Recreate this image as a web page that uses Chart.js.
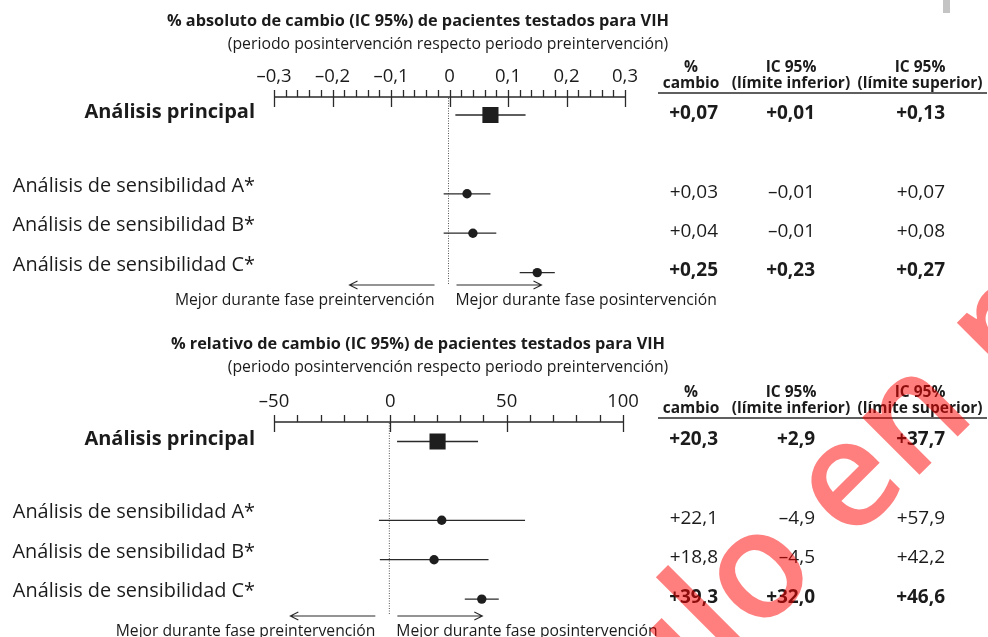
<!DOCTYPE html>
<html lang="es">
<head>
<meta charset="utf-8">
<title>% de cambio de pacientes testados para VIH</title>
<script src="https://cdn.jsdelivr.net/npm/chart.js@4.4.0/dist/chart.umd.min.js"></script>
<style>
  html, body { margin: 0; padding: 0; background: #fff; }
  body { width: 988px; height: 637px; position: relative; overflow: hidden; }
  canvas { position: absolute; left: 0; top: 0; }
  #marca { position: absolute; left: 943px; top: 0; width: 7px; height: 13px; background: #c4c4c4; }
</style>
</head>
<body>
<canvas id="absChart" width="988" height="637"></canvas>
<canvas id="relChart" width="988" height="637"></canvas>
<div id="marca"></div>
<script>
'use strict';

// filas
const rowLabels = ['Análisis principal', 'Análisis de sensibilidad A*', 'Análisis de sensibilidad B*', 'Análisis de sensibilidad C*'];
const rowIndex  = [0, 2, 3, 4];
const boldRows  = [true, false, false, true];
const colHead1  = ['%', 'IC 95%', 'IC 95%'];
const colHead2  = ['cambio', '(límite inferior)', '(límite superior)'];
const arrowLabels = ['Mejor durante fase preintervención', 'Mejor durante fase posintervención'];

// % absoluto
const absTicks      = [-0.3, -0.2, -0.1, 0, 0.1, 0.2, 0.3];
const absTickLabels = ['–0,3', '–0,2', '–0,1', '0', '0,1', '0,2', '0,3'];
const absPoint = [0.07, 0.03, 0.04, 0.15];   // C aparece dibujado en 0,15 en la figura
const absLow   = [0.01, -0.01, -0.01, 0.12];
const absHigh  = [0.13, 0.07, 0.08, 0.18];
const absCambio = ['+0,07', '+0,03', '+0,04', '+0,25'];
const absInf    = ['+0,01', '–0,01', '–0,01', '+0,23'];
const absSup    = ['+0,13', '+0,07', '+0,08', '+0,27'];

// % relativo
const relTicks      = [-50, 0, 50, 100];
const relTickLabels = ['–50', '0', '50', '100'];
const relPoint = [20.3, 22.1, 18.8, 39.3];
const relLow   = [2.9, -4.9, -4.5, 32.0];
const relHigh  = [37.7, 57.9, 42.2, 46.6];
const relCambio = ['+20,3', '+22,1', '+18,8', '+39,3'];
const relInf    = ['+2,9', '–4,9', '–4,5', '+32,0'];
const relSup    = ['+37,7', '+57,9', '+42,2', '+46,6'];

const FONT  = '"Open Sans", "Noto Sans", sans-serif';
const INK   = '#1b1b1b';
const PITCH = 39.4;

function put(c, s, x, cy, size, weight, align) {
  c.font = `${weight} ${size}px ${FONT}`;
  c.textAlign = align;
  c.textBaseline = 'alphabetic';
  c.fillStyle = INK;
  c.fillText(s, x, cy + size * 0.357);
}

function forest(id, o) {
  const bottom = o.rowTop + 4.5 * PITCH;
  return new Chart(document.getElementById(id).getContext('2d'), {
    type: 'scatter',
    data: {
      datasets: [{
        data: o.point.map((v, i) => ({ x: v, y: rowIndex[i] })),
        pointStyle: rowIndex.map(r => r === 0 ? 'rect' : 'circle'),
        pointRadius: rowIndex.map(r => r === 0 ? 11.4 : 4.7),
        backgroundColor: '#1e1e1e',
        borderWidth: 0
      }]
    },
    options: {
      responsive: false,
      animation: false,
      devicePixelRatio: 1,
      events: [],
      layout: { padding: { left: o.left, right: 988 - o.right, top: o.rowTop - PITCH, bottom: 637 - bottom } },
      scales: {
        x: { type: 'linear', min: o.min, max: o.max, display: false },
        y: { type: 'linear', min: -1, max: 4.5, reverse: true, display: false }
      },
      plugins: { legend: { display: false }, tooltip: { enabled: false } }
    },
    plugins: [{
      id: 'forest',
      beforeDatasetsDraw(chart) {
        const c = chart.ctx, x = chart.scales.x, y = chart.scales.y;
        const z = x.getPixelForValue(0);
        c.save();
        c.strokeStyle = '#2a2a2a';
        c.lineWidth = 1.3;
        // eje
        c.beginPath();
        c.moveTo(x.left, o.axisY); c.lineTo(x.right, o.axisY);
        for (let v = o.min; v <= o.max + 1e-9; v += o.minor) {
          const px = Math.round(x.getPixelForValue(v)) + 0.5;
          c.moveTo(px, o.axisY - 7); c.lineTo(px, o.axisY);
        }
        o.ticks.forEach(v => {
          const px = Math.round(x.getPixelForValue(v)) + 0.5;
          c.moveTo(px, o.axisY - 7); c.lineTo(px, o.axisY + 10);
        });
        c.stroke();
        // línea de no efecto
        c.lineWidth = 1;
        c.strokeStyle = '#555';
        c.setLineDash([1, 1.5]);
        c.beginPath();
        c.moveTo(z - 1, o.axisY + 1); c.lineTo(z - 1, o.arrowY - 1);
        c.stroke();
        c.setLineDash([]);
        // IC
        c.strokeStyle = '#2a2a2a';
        c.lineWidth = 1.3;
        c.beginPath();
        o.low.forEach((lo, i) => {
          const py = y.getPixelForValue(rowIndex[i]);
          c.moveTo(x.getPixelForValue(lo), py); c.lineTo(x.getPixelForValue(o.high[i]), py);
        });
        c.stroke();
        // flechas
        c.lineWidth = 1.1;
        c.beginPath();
        c.moveTo(z - 15, o.arrowY); c.lineTo(z - 100, o.arrowY);
        c.moveTo(z - 92, o.arrowY - 4); c.lineTo(z - 100, o.arrowY); c.lineTo(z - 92, o.arrowY + 4);
        c.moveTo(z + 7, o.arrowY); c.lineTo(z + 92, o.arrowY);
        c.moveTo(z + 84, o.arrowY - 4); c.lineTo(z + 92, o.arrowY); c.lineTo(z + 84, o.arrowY + 4);
        c.stroke();
        c.restore();
      },
      afterDraw(chart) {
        const c = chart.ctx, x = chart.scales.x, y = chart.scales.y;
        const z = x.getPixelForValue(0);
        c.save();
        put(c, o.title, 418, o.titleY, 16.3, 700, 'center');
        put(c, o.subtitle, 448, o.titleY + 23, 15.8, 400, 'center');
        o.ticks.forEach((v, i) => put(c, o.tickLabels[i], x.getPixelForValue(v), o.axisY - 22, 18.5, 400, 'center'));
        put(c, arrowLabels[0], z - 15, o.arrowY + 14, 15.7, 400, 'right');
        put(c, arrowLabels[1], z + 6, o.arrowY + 14, 15.7, 400, 'left');
        // etiquetas de fila
        rowLabels.forEach((s, i) => {
          const py = y.getPixelForValue(rowIndex[i]);
          put(c, s, 255, py - (i === 0 ? 4 : 9), i === 0 ? 20 : 19.9, i === 0 ? 700 : 400, 'right');
        });
        // tabla
        const cx = [691, 791, 920];
        cx.forEach((px, j) => {
          put(c, colHead1[j], px, o.axisY - 31, 15.5, 700, 'center');
          put(c, colHead2[j], px, o.axisY - 15, 15.5, 700, 'center');
        });
        c.strokeStyle = '#2a2a2a';
        c.lineWidth = 1.3;
        c.beginPath();
        c.moveTo(658, o.axisY - 4); c.lineTo(987, o.axisY - 4);
        c.stroke();
        const rx = [718, 815, 945];
        [o.cambio, o.inf, o.sup].forEach((col, j) => {
          col.forEach((s, i) => {
            const py = y.getPixelForValue(rowIndex[i]);
            put(c, s, rx[j], py - 3, 19, boldRows[i] ? 700 : 400, 'right');
          });
        });
        if (o.sello) {
          // marca de agua
          const F = 150, th = 45 * Math.PI / 180;
          c.font = `600 ${F}px ${FONT}`;
          const d = c.measureText('Artícul').width + c.measureText('o').width / 2;
          const ux = Math.cos(th), uy = -Math.sin(th);
          const vx = -Math.sin(th), vy = -Math.cos(th);
          const bx = 761 - d * ux - 0.27 * F * vx;
          const by = 576 - d * uy - 0.27 * F * vy;
          c.translate(bx, by);
          c.rotate(-th);
          c.textAlign = 'left';
          c.textBaseline = 'alphabetic';
          c.fillStyle = 'rgba(255,0,0,0.5)';
          c.fillText('Artículo en prensa', 0, 0);
        }
        c.restore();
      }
    }]
  });
}

forest('absChart', {
  title: '% absoluto de cambio (IC 95%) de pacientes testados para VIH',
  subtitle: '(periodo posintervención respecto periodo preintervención)',
  titleY: 20, axisY: 97, arrowY: 285, rowTop: 115,
  left: 274, right: 625, min: -0.3, max: 0.3, minor: 0.02,
  ticks: absTicks, tickLabels: absTickLabels,
  point: absPoint, low: absLow, high: absHigh,
  cambio: absCambio, inf: absInf, sup: absSup
});

forest('relChart', {
  title: '% relativo de cambio (IC 95%) de pacientes testados para VIH',
  subtitle: '(periodo posintervención respecto periodo preintervención)',
  titleY: 343, axisY: 422, arrowY: 616, rowTop: 441.5,
  left: 274, right: 623, min: -50, max: 100, minor: 10,
  ticks: relTicks, tickLabels: relTickLabels,
  point: relPoint, low: relLow, high: relHigh,
  cambio: relCambio, inf: relInf, sup: relSup,
  sello: true
});
</script>
</body>
</html>
